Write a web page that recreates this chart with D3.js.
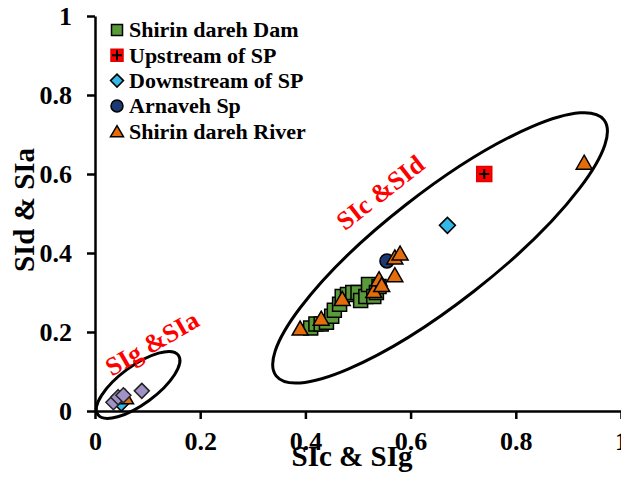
<!DOCTYPE html>
<html>
<head>
<meta charset="utf-8">
<script src="https://cdn.jsdelivr.net/npm/d3@7"></script>
<style>
    body { margin: 0; background: #fff; }
    .chart text { font-family: "Liberation Serif", "Times New Roman", serif; font-weight: bold; }
</style>
</head>
<body>
<svg class="chart"></svg>
<script>
// data, [SI x, SI y] pairs per sampling group
var shirinDam = [[0.41, 0.21], [0.42, 0.22], [0.43, 0.22], [0.44, 0.225], [0.45, 0.24],
                 [0.455, 0.255], [0.465, 0.27], [0.47, 0.29], [0.48, 0.295], [0.49, 0.30],
                 [0.50, 0.30], [0.505, 0.28], [0.515, 0.29], [0.52, 0.32], [0.53, 0.29],
                 [0.535, 0.30], [0.54, 0.315]];
var upstreamSP = [[0.74, 0.60]];
var downstreamSP = [[0.05, 0.02], [0.67, 0.47]];
var arnavehSp = [[0.555, 0.38]];
var shirinRiver = [[0.058, 0.036], [0.39, 0.21], [0.43, 0.235], [0.47, 0.285], [0.53, 0.305],
                   [0.54, 0.335], [0.545, 0.32], [0.57, 0.345], [0.57, 0.39], [0.58, 0.40],
                   [0.93, 0.63]];
var sigSia = [[0.035, 0.022], [0.044, 0.035], [0.054, 0.04], [0.089, 0.051]];

var legendNames = ['Shirin dareh Dam', 'Upstream of SP', 'Downstream of SP', 'Arnaveh Sp', 'Shirin dareh River'];
var xTicks = [0, 0.2, 0.4, 0.6, 0.8, 1];
var yTicks = [0, 0.2, 0.4, 0.6, 0.8, 1];

function show() {
    'use strict';

    var width = 621, height = 481;

    var svg = d3.select('.chart')
        .attr('width', width)
        .attr('height', height);

    // plot area runs from the y axis to the right edge of the picture
    var x = d3.scaleLinear().domain([0, 1]).range([95, 621]);
    var y = d3.scaleLinear().domain([0, 1]).range([411, 16]);

    // marker shapes, centred on their bounding box like excel does
    function square(s) { return 'M' + (-s / 2) + ',' + (-s / 2) + 'h' + s + 'v' + s + 'h' + (-s) + 'Z'; }
    function diamond(r) { return 'M0,' + (-r) + 'L' + r + ',0L0,' + r + 'L' + (-r) + ',0Z'; }
    function triangle(w, h) { return 'M0,' + (-h / 2) + 'L' + (w / 2) + ',' + (h / 2) + 'L' + (-w / 2) + ',' + (h / 2) + 'Z'; }

    var styles = [
        { path: square(14), fill: '#5B9A3B', stroke: '#000' },
        { path: square(15), fill: '#FF0000', stroke: '#E00000', plus: true },
        { path: diamond(8), fill: '#33B8E8', stroke: '#000' },
        { circle: 7, fill: '#1C3A72', stroke: '#000' },
        { path: triangle(16, 14), fill: '#E46C0A', stroke: '#000' },
        { path: diamond(7.5), fill: '#A092C4', stroke: '#222' }
    ];

    // axes
    var xAxis = d3.axisBottom(x).tickValues(xTicks).tickSize(8).tickSizeOuter(0)
        .tickFormat(d3.format('~g'));
    var yAxis = d3.axisLeft(y).tickValues(yTicks).tickSize(8).tickSizeOuter(0)
        .tickFormat(d3.format('~g'));

    var gx = svg.append('g').attr('transform', 'translate(0,' + y(0) + ')').call(xAxis);
    var gy = svg.append('g').attr('transform', 'translate(' + x(0) + ',0)').call(yAxis);

    [gx, gy].forEach(function (g) {
        g.select('.domain').attr('stroke', '#000').attr('stroke-width', 2.5);
        g.selectAll('.tick line').attr('stroke', '#000').attr('stroke-width', 2.5);
        g.selectAll('.tick text').attr('fill', '#000').style('font-size', '26px');
    });
    gx.selectAll('.tick text').attr('dy', '0.95em').attr('y', 14);
    gy.selectAll('.tick text').attr('x', -23).attr('dy', '0.34em');

    // axis titles
    svg.append('text')
        .attr('x', 352).attr('y', 466)
        .attr('text-anchor', 'middle')
        .style('font-size', '29px')
        .text('SIc & SIg');

    svg.append('text')
        .attr('transform', 'translate(34,210) rotate(-90)')
        .attr('text-anchor', 'middle')
        .style('font-size', '29px')
        .text('SId & SIa');

    // the two grouping ellipses
    var ellipses = [
        { cx: 0.656, cy: 0.413, rx: 208, ry: 55, angle: -38 },
        { cx: 0.082, cy: 0.066, rx: 50, ry: 19, angle: -36.5 }
    ];
    svg.selectAll('ellipse.group').data(ellipses)
        .enter()
        .append('ellipse')
        .attr('class', 'group')
        .attr('transform', function (d) {
            return 'translate(' + x(d.cx) + ',' + y(d.cy) + ') rotate(' + d.angle + ')';
        })
        .attr('rx', function (d) { return d.rx; })
        .attr('ry', function (d) { return d.ry; })
        .attr('fill', 'none')
        .attr('stroke', '#000')
        .attr('stroke-width', 3);

    // red labels on the ellipses
    var notes = [
        { text: 'SIc &SId', x: 0.542, y: 0.554, angle: -38 },
        { text: 'SIg &SIa', x: 0.108, y: 0.172, angle: -30 }
    ];
    svg.selectAll('text.note').data(notes)
        .enter()
        .append('text')
        .attr('class', 'note')
        .attr('transform', function (d) {
            return 'translate(' + x(d.x) + ',' + y(d.y) + ') rotate(' + d.angle + ')';
        })
        .attr('text-anchor', 'middle')
        .attr('dy', '0.35em')
        .attr('fill', '#FF0000')
        .style('font-size', '26px')
        .text(function (d) { return d.text; });

    // draw one marker
    function marker(sel, st) {
        if (st.circle) {
            sel.append('circle').attr('r', st.circle)
                .attr('fill', st.fill).attr('stroke', st.stroke).attr('stroke-width', 1.5);
        } else {
            sel.append('path').attr('d', st.path)
                .attr('fill', st.fill).attr('stroke', st.stroke).attr('stroke-width', 1.5);
        }
        if (st.plus) {
            sel.append('path').attr('d', 'M-5,0H5M0,-5V5')
                .attr('stroke', '#000').attr('stroke-width', 2);
        }
    }

    // series in excel's drawing order
    var allSeries = [shirinDam, upstreamSP, downstreamSP, arnavehSp, shirinRiver, sigSia];
    allSeries.forEach(function (data, i) {
        svg.append('g').selectAll('g').data(data)
            .enter()
            .append('g')
            .attr('transform', function (d) { return 'translate(' + x(d[0]) + ',' + y(d[1]) + ')'; })
            .each(function () { marker(d3.select(this), styles[i]); });
    });

    // legend, top left inside the plot
    var legend = svg.append('g').selectAll('g').data(legendNames)
        .enter()
        .append('g')
        .attr('transform', function (d, i) { return 'translate(117,' + (30 + i * 25.3) + ')'; });

    legend.each(function (d, i) {
        var st = styles[i];
        var small = {
            path: i === 0 ? square(11) : i === 1 ? square(12) : i === 2 ? diamond(6.5) : triangle(13, 11),
            fill: st.fill, stroke: st.stroke, plus: st.plus,
            circle: i === 3 ? 6 : 0
        };
        marker(d3.select(this), small);
    });

    legend.append('text')
        .attr('x', 12)
        .attr('dy', '0.34em')
        .style('font-size', '22px')
        .text(function (d) { return d; });
}

show();
</script>
</body>
</html>
